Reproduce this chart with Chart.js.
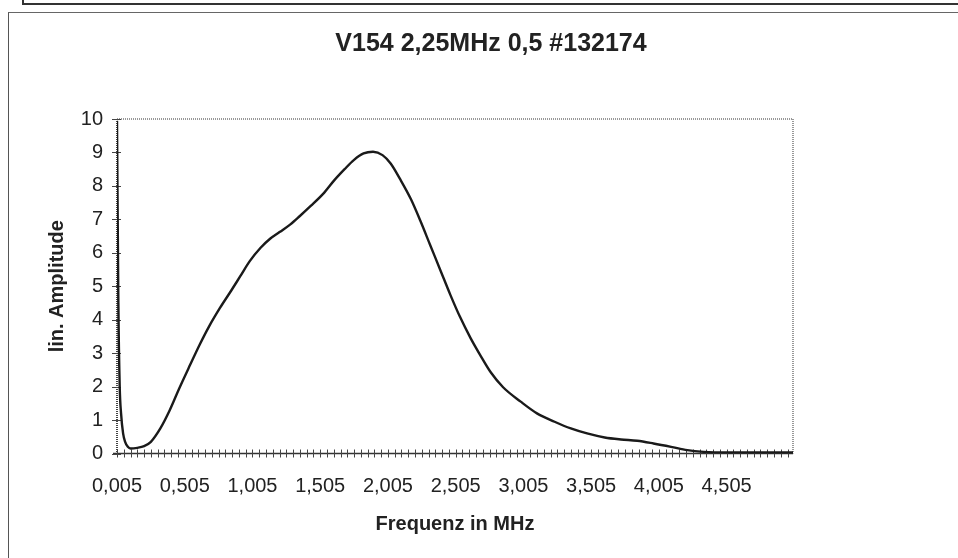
<!DOCTYPE html>
<html>
<head>
<meta charset="utf-8">
<title>V154 2,25MHz 0,5 #132174</title>
<script src="https://cdn.jsdelivr.net/npm/chart.js@4.4.1/dist/chart.umd.min.js"></script>
<style>
    html, body { margin: 0; padding: 0; background: #fff; }
    #wrap { position: relative; width: 958px; height: 558px; overflow: hidden; }
    #topBox { position: absolute; left: 22px; top: -4px; width: 950px; height: 5px; border: 2px solid #333; }
    #frame { position: absolute; left: 8px; top: 12px; width: 960px; height: 560px; border-left: 1.5px solid #555; border-top: 1.5px solid #666; }
    #myChart { position: absolute; left: 0; top: 0; }
</style>
</head>
<body>
<div id="wrap">
    <div id="topBox"></div>
    <div id="frame"></div>
    <canvas id="myChart" width="958" height="558"></canvas>
</div>
<script>
"use strict";

var chartTitle = 'V154 2,25MHz 0,5 #132174';
var xTitle = 'Frequenz in MHz';
var yTitle = 'lin. Amplitude';

// frequency in MHz
var freqMHz = [0.005, 0.015, 0.025, 0.035, 0.05, 0.065, 0.085, 0.105, 0.155, 0.205, 0.255,
    0.325, 0.395, 0.465, 0.545, 0.615, 0.685, 0.765, 0.845, 0.915, 0.985,
    1.065, 1.135, 1.205, 1.285, 1.355, 1.435, 1.535, 1.605, 1.685, 1.755,
    1.825, 1.895, 1.965, 2.025, 2.095, 2.175, 2.245, 2.315, 2.395, 2.465,
    2.535, 2.615, 2.685, 2.765, 2.855, 2.985, 3.105, 3.235, 3.355, 3.475,
    3.605, 3.725, 3.845, 3.965, 4.095, 4.215, 4.335, 4.505, 4.755, 4.995];
// lin. amplitude
var amplitude = [9.95, 4.5, 2.0, 1.2, 0.6, 0.35, 0.2, 0.15, 0.17, 0.22, 0.35,
    0.75, 1.3, 1.95, 2.65, 3.25, 3.8, 4.35, 4.85, 5.3, 5.75,
    6.15, 6.42, 6.62, 6.85, 7.1, 7.4, 7.8, 8.15, 8.5, 8.78,
    8.97, 9.02, 8.92, 8.67, 8.2, 7.6, 6.95, 6.25, 5.45, 4.75,
    4.1, 3.45, 2.95, 2.42, 1.98, 1.55, 1.2, 0.95, 0.75, 0.6,
    0.48, 0.42, 0.38, 0.3, 0.2, 0.1, 0.05, 0.03, 0.03, 0.03];

var xLabels = ['0,005', '0,505', '1,005', '1,505', '2,005', '2,505', '3,005', '3,505', '4,005', '4,505'];
var yTicks = [0, 1, 2, 3, 4, 5, 6, 7, 8, 9, 10];

var xMin = 0.005;
var xMax = 4.995;
var xMinorStep = 0.05;

var points = freqMHz.map(function (f, i) { return { x: f, y: amplitude[i] }; });

// Excel-like cross tick marks and the dotted plot border
var excelAxes = {
    id: 'excelAxes',
    beforeDatasetsDraw: function (chart) {
        var ctx = chart.ctx;
        var a = chart.chartArea;
        var xs = chart.scales.x, ys = chart.scales.y;
        ctx.save();
        // dotted plot area border (top and right)
        ctx.strokeStyle = '#777';
        ctx.lineWidth = 1.5;
        ctx.setLineDash([1, 1]);
        ctx.beginPath();
        ctx.moveTo(a.left, a.top);
        ctx.lineTo(a.right, a.top);
        ctx.lineTo(a.right, a.bottom);
        ctx.stroke();
        // y axis line
        ctx.strokeStyle = '#444';
        ctx.lineWidth = 2;
        ctx.beginPath();
        ctx.moveTo(a.left, a.top);
        ctx.lineTo(a.left, a.bottom);
        ctx.stroke();
        ctx.setLineDash([]);
        // x axis line
        ctx.strokeStyle = '#333';
        ctx.lineWidth = 1.5;
        ctx.beginPath();
        ctx.moveTo(a.left - 4, a.bottom);
        ctx.lineTo(a.right, a.bottom);
        ctx.stroke();
        // tick marks crossing the axes
        ctx.lineWidth = 1;
        ctx.strokeStyle = '#444';
        ctx.beginPath();
        xs.ticks.forEach(function (t) {
            var px = Math.round(xs.getPixelForValue(t.value)) + 0.5;
            ctx.moveTo(px, a.bottom - 4);
            ctx.lineTo(px, a.bottom + 4);
        });
        ys.ticks.forEach(function (t) {
            var py = Math.round(ys.getPixelForValue(t.value)) + 0.5;
            ctx.moveTo(a.left - 5, py);
            ctx.lineTo(a.left + 4, py);
        });
        ctx.stroke();
        ctx.restore();
    }
};

Chart.defaults.font.family = '"Liberation Sans", Arial, sans-serif';
Chart.defaults.color = '#222';

var ctx = document.getElementById('myChart').getContext('2d');
var myChart = new Chart(ctx, {
    type: 'line',
    data: {
        datasets: [{
            data: points,
            borderColor: '#1a1a1a',
            borderWidth: 2.4,
            pointRadius: 0,
            fill: false,
            cubicInterpolationMode: 'monotone'
        }]
    },
    options: {
        responsive: false,
        animation: false,
        layout: { padding: { left: 24, right: 0, top: 0, bottom: 0 } },
        plugins: {
            legend: { display: false },
            tooltip: { enabled: false },
            title: {
                display: true,
                text: chartTitle,
                color: '#222',
                font: { size: 25, weight: 'bold' },
                padding: { top: 29, bottom: 60 }
            }
        },
        scales: {
            x: {
                type: 'linear',
                min: xMin,
                max: xMax,
                afterBuildTicks: function (scale) {
                    var ticks = [];
                    for (var i = 0; xMin + i * xMinorStep <= xMax + 1e-9; i++) {
                        ticks.push({ value: +(xMin + i * xMinorStep).toFixed(3) });
                    }
                    scale.ticks = ticks;
                },
                afterFit: function (scale) { scale.height = 104.5; },
                grid: { display: false, drawTicks: false },
                border: { display: false },
                ticks: {
                    autoSkip: false,
                    maxRotation: 0,
                    padding: 21,
                    font: { size: 20 },
                    color: '#222',
                    callback: function (value, index) {
                        return index % 10 === 0 ? xLabels[index / 10] : '';
                    }
                },
                title: {
                    display: true,
                    text: xTitle,
                    color: '#222',
                    font: { size: 20, weight: 'bold' },
                    padding: { top: 0, bottom: 22 }
                }
            },
            y: {
                min: 0,
                max: 10,
                afterBuildTicks: function (scale) {
                    scale.ticks = yTicks.map(function (v) { return { value: v }; });
                },
                afterFit: function (scale) { scale.width = 93; },
                grid: { display: false, drawTicks: false },
                border: { display: false },
                ticks: {
                    padding: 14,
                    font: { size: 20 },
                    color: '#222'
                },
                title: {
                    display: true,
                    text: yTitle,
                    color: '#222',
                    font: { size: 20, weight: 'bold' },
                    padding: { top: 21, bottom: 0 }
                }
            },
            // empty space on the right of the plot, as in the original sheet
            spacer: {
                type: 'linear',
                position: 'right',
                min: 0,
                max: 1,
                afterFit: function (scale) { scale.width = 165; },
                grid: { display: false, drawTicks: false },
                border: { display: false },
                ticks: { display: false }
            }
        }
    },
    plugins: [excelAxes]
});
</script>
</body>
</html>
